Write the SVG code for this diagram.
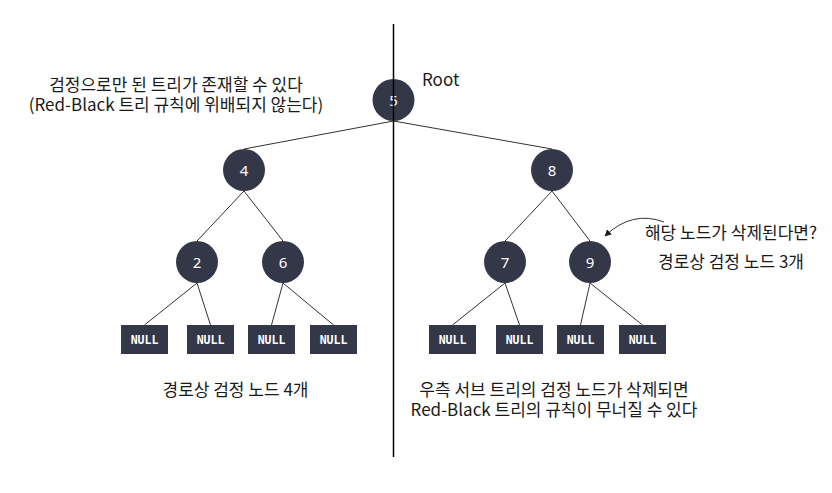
<svg xmlns="http://www.w3.org/2000/svg" width="832" height="493" viewBox="0 0 832 493">
<style>
.n{fill:#343748}
.num{fill:#ffffff;font-family:"Noto Sans","Noto Sans CJK KR",sans-serif;font-size:15px;text-anchor:middle;dominant-baseline:central}
.nl{fill:#ffffff;font-family:"DejaVu Sans Mono",monospace;font-size:11.5px;font-weight:bold;text-anchor:middle;dominant-baseline:central}
.e{stroke:#333;stroke-width:1;fill:none}
.t{fill:#1a1a1a;font-family:"Noto Sans CJK KR","Noto Sans",sans-serif;font-size:17px;text-anchor:middle}
</style>
<defs>
<marker id="ah" viewBox="0 0 10 10" refX="9" refY="5" markerWidth="7" markerHeight="7" orient="auto" markerUnits="userSpaceOnUse">
<path d="M0,0 L10,5 L0,10 z" fill="#1e1e1e"/>
</marker>
</defs>
<rect width="832" height="493" fill="#ffffff"/>
<g id="connectors">
<line class="e" x1="393.5" y1="121" x2="244" y2="149"/>
<line class="e" x1="393.5" y1="121" x2="552" y2="149"/>
<line class="e" x1="244" y1="191" x2="197" y2="241"/>
<line class="e" x1="244" y1="191" x2="283" y2="241"/>
<line class="e" x1="552" y1="191" x2="505" y2="241"/>
<line class="e" x1="552" y1="191" x2="590" y2="241"/>
<line class="e" x1="197" y1="283" x2="144.5" y2="325"/>
<line class="e" x1="197" y1="283" x2="210.5" y2="325"/>
<line class="e" x1="283" y1="283" x2="271.5" y2="325"/>
<line class="e" x1="283" y1="283" x2="333.5" y2="325"/>
<line class="e" x1="505" y1="283" x2="452.5" y2="325"/>
<line class="e" x1="505" y1="283" x2="519.5" y2="325"/>
<line class="e" x1="590" y1="283" x2="580.5" y2="325"/>
<line class="e" x1="590" y1="283" x2="642.5" y2="325"/>
<path class="e" d="M664,222 Q632,210 605,236" marker-end="url(#ah)"/>
</g>
<g id="node5"><circle class="n" cx="393.5" cy="100" r="21"/><text class="num" x="393.5" y="100">5</text></g>
<g id="node4"><circle class="n" cx="244" cy="170" r="21"/><text class="num" x="244" y="170">4</text></g>
<g id="node8"><circle class="n" cx="552" cy="170" r="21"/><text class="num" x="552" y="170">8</text></g>
<g id="node2"><circle class="n" cx="197" cy="262" r="21"/><text class="num" x="197" y="262">2</text></g>
<g id="node6"><circle class="n" cx="283" cy="262" r="21"/><text class="num" x="283" y="262">6</text></g>
<g id="node7"><circle class="n" cx="505" cy="262" r="21"/><text class="num" x="505" y="262">7</text></g>
<g id="node9"><circle class="n" cx="590" cy="262" r="21"/><text class="num" x="590" y="262">9</text></g>
<g id="null1"><rect class="n" x="121" y="325" width="47" height="29"/><text class="nl" x="144.5" y="339.5">NULL</text></g>
<g id="null2"><rect class="n" x="187" y="325" width="47" height="29"/><text class="nl" x="210.5" y="339.5">NULL</text></g>
<g id="null3"><rect class="n" x="248" y="325" width="47" height="29"/><text class="nl" x="271.5" y="339.5">NULL</text></g>
<g id="null4"><rect class="n" x="310" y="325" width="47" height="29"/><text class="nl" x="333.5" y="339.5">NULL</text></g>
<g id="null5"><rect class="n" x="429" y="325" width="47" height="29"/><text class="nl" x="452.5" y="339.5">NULL</text></g>
<g id="null6"><rect class="n" x="496" y="325" width="47" height="29"/><text class="nl" x="519.5" y="339.5">NULL</text></g>
<g id="null7"><rect class="n" x="557" y="325" width="47" height="29"/><text class="nl" x="580.5" y="339.5">NULL</text></g>
<g id="null8"><rect class="n" x="619" y="325" width="47" height="29"/><text class="nl" x="642.5" y="339.5">NULL</text></g>
<line x1="393.5" y1="24" x2="393.5" y2="457" stroke="#000" stroke-width="1.5"/>
<g id="labels">
<text class="t" x="422" y="86" style="text-anchor:start">Root</text>
<text class="t" x="176" y="91">검정으로만 된 트리가 존재할 수 있다</text>
<text class="t" x="176" y="110.5">(Red-Black 트리 규칙에 위배되지 않는다)</text>
<text class="t" x="731" y="239">해당 노드가 삭제된다면?</text>
<text class="t" x="731" y="268">경로상 검정 노드 3개</text>
<text class="t" x="235.5" y="396">경로상 검정 노드 4개</text>
<text class="t" x="554" y="396">우측 서브 트리의 검정 노드가 삭제되면</text>
<text class="t" x="554" y="415.5">Red-Black 트리의 규칙이 무너질 수 있다</text>
</g>
</svg>
